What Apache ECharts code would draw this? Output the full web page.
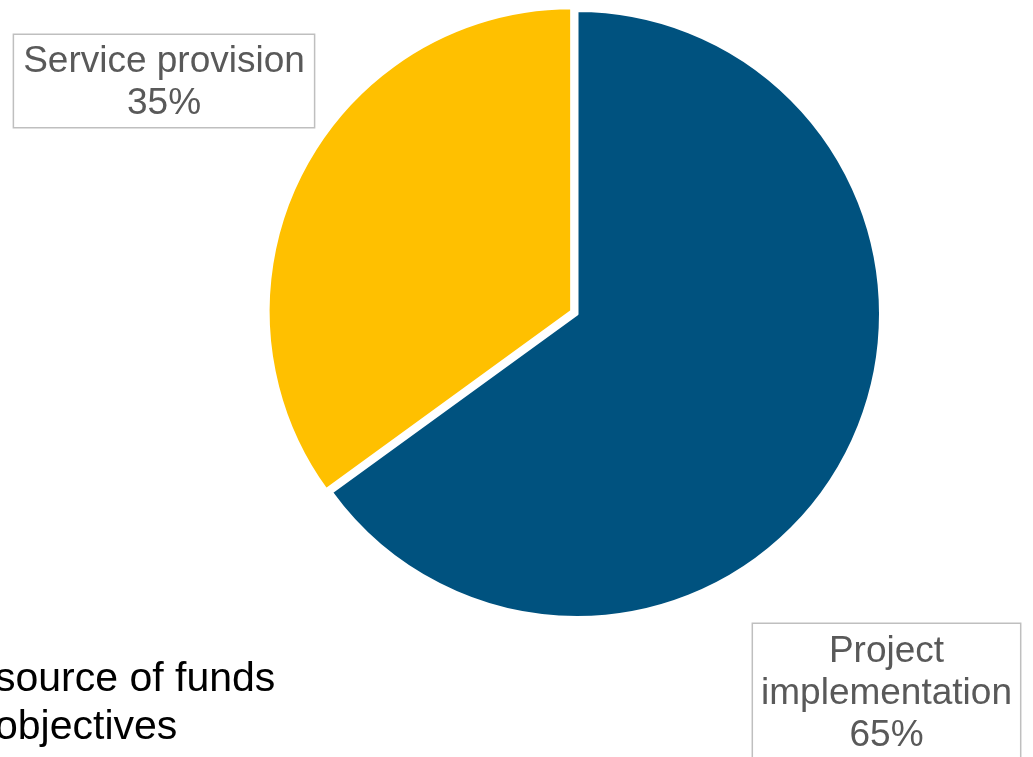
<!DOCTYPE html>
<html>
<head>
<meta charset="utf-8">
<script src="https://cdn.jsdelivr.net/npm/echarts@6/dist/echarts.min.js"></script>
<style>
html,body{margin:0;padding:0;background:#fff;}
#c{width:1033px;height:757px;}
</style>
</head>
<body>
<div id="c"></div>
<script>
const categories = ['Project\nimplementation', 'Service provision'];
const values = [65, 35];
const colors = ['#00527F', '#FFC000'];
const bodyLines = ['source of funds', 'objectives'];

const chart = echarts.init(document.getElementById('c'), null, {renderer: 'canvas'});
const CX = 577, CY = 314, R = 303.5;
// slice 1 (Service provision) is pulled out of the pie slightly
const explode = [0, 6];
const labelPos = [
  {x: 886.5, y: 624, align: 'center', verticalAlign: 'top', padding: [7, 8, 4, 8]},
  {x: 164, y: 35, align: 'center', verticalAlign: 'top', padding: [6, 9, 2, 9]}
];
const total = values.reduce((a, b) => a + b, 0);
function midAngle(idx) {
  let before = 0;
  for (let i = 0; i < idx; i++) before += values[i];
  const frac = (before + values[idx] / 2) / total;
  return (90 - frac * 360) * Math.PI / 180; // clockwise from top
}
const series = categories.map((name, idx) => {
  const a = midAngle(idx);
  const off = explode[idx];
  return {
    type: 'pie',
    name: name,
    center: [CX + off * Math.cos(a), CY - off * Math.sin(a)],
    radius: R,
    startAngle: 90,
    clockwise: true,
    avoidLabelOverlap: false,
    silent: true,
    itemStyle: {borderColor: '#fff', borderWidth: 3},
    labelLine: {show: false},
    label: {
      show: true,
      position: 'outside',
      overflow: 'none',
      alignTo: 'none',
      formatter: p => p.name + '\n' + p.value + '%',
      fontFamily: '"Liberation Sans", Arial, sans-serif',
      fontSize: 37,
      lineHeight: 42,
      color: '#595959',
      backgroundColor: '#fff',
      borderColor: '#BFBFBF',
      borderWidth: 1.5,
      padding: labelPos[idx].padding,
      align: 'center'
    },
    labelLayout: p => (p.dataIndex === idx ? labelPos[idx] : {}),
    emphasis: {disabled: true},
    data: categories.map((n, i) => ({
      name: n,
      value: values[i],
      itemStyle: i === idx ? {color: colors[i]} : {color: 'rgba(0,0,0,0)', borderWidth: 0},
      label: {show: i === idx}
    }))
  };
});
chart.setOption({
  animation: false,
  backgroundColor: '#fff',
  graphic: bodyLines.map((t, i) => ({
    type: 'text',
    left: -5,
    top: 659 + i * 48,
    style: {text: t, font: '41px "Liberation Sans", Arial, sans-serif', fill: '#000'}
  })),
  series: series
});
</script>
</body>
</html>
